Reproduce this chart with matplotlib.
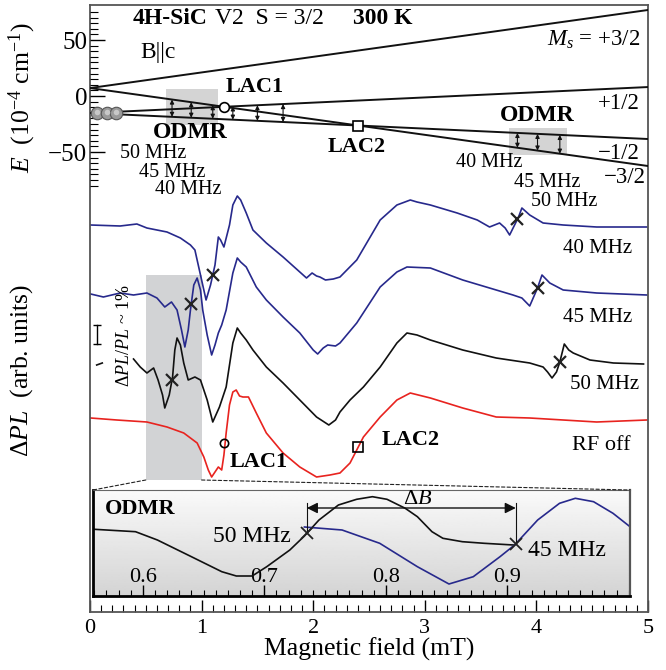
import matplotlib
matplotlib.use("Agg")
import matplotlib.pyplot as plt
import numpy as np
from matplotlib.patches import Rectangle, ConnectionPatch
from matplotlib.ticker import FixedLocator, MultipleLocator

plt.rcParams["font.family"] = ["Liberation Serif", "DejaVu Serif"]
plt.rcParams["mathtext.fontset"] = "custom"
plt.rcParams["mathtext.rm"] = "Liberation Serif"
plt.rcParams["mathtext.it"] = "Liberation Serif:italic"
plt.rcParams["mathtext.bf"] = "Liberation Serif:bold"

# ---- energy levels (10^-4 cm^-1) at B = 0 and 5 mT ----
LEVEL_B = [0.0, 5.0]
LEVEL_P32 = [7.1, 76.8]
LEVEL_P12 = [-15.2, 8.0]
LEVEL_M12 = [-15.2, -38.4]
LEVEL_M32 = [7.1, -62.5]
BALL_B = [0.063, 0.15, 0.23]

# ODMR resonance fields (mT)
ODMR_LOW = [0.735, 0.907, 1.10]     # 50, 45, 40 MHz
ODMR_MID = [1.28, 1.50, 1.73]
ODMR_HIGH = [3.83, 4.01, 4.21]      # 40, 45, 50 MHz

# ---- Delta PL traces ----
B_40 = [0.006, 0.27, 0.42, 0.51, 0.69, 0.81, 0.90, 0.94, 0.99, 1.04, 1.08, 1.12, 1.15, 1.17, 1.20,
        1.25, 1.28, 1.32, 1.35, 1.40, 1.46, 1.58, 1.73, 1.88, 1.94, 1.99, 2.03, 2.06, 2.11, 2.18,
        2.24, 2.39, 2.60, 2.75, 2.87, 2.93, 3.05, 3.29, 3.47, 3.58, 3.67, 3.72, 3.76, 3.84, 3.87,
        3.94, 4.06, 4.24, 4.54, 4.99]
PL_40 = [3.87, 3.86, 3.88, 3.84, 3.80, 3.74, 3.67, 3.62, 3.37, 3.12, 3.27, 3.47, 3.75, 3.72, 3.65,
         3.87, 4.07, 4.16, 4.12, 3.99, 3.82, 3.69, 3.55, 3.40, 3.34, 3.39, 3.36, 3.35, 3.32, 3.33,
         3.35, 3.52, 3.92, 4.07, 4.12, 4.10, 4.07, 3.99, 3.92, 3.85, 3.89, 3.84, 3.77, 3.95, 4.04,
         3.97, 3.89, 3.87, 3.85, 3.85]

B_45 = [0.006, 0.12, 0.27, 0.39, 0.51, 0.60, 0.67, 0.73, 0.78, 0.82, 0.85, 0.88, 0.90, 0.93, 0.96,
        0.99, 1.01, 1.05, 1.09, 1.12, 1.15, 1.18, 1.22, 1.28, 1.32, 1.35, 1.40, 1.49, 1.58, 1.73,
        1.88, 2.00, 2.04, 2.09, 2.13, 2.20, 2.24, 2.39, 2.60, 2.75, 2.84, 3.05, 3.34, 3.64, 3.79,
        3.87, 3.94, 4.01, 4.05, 4.12, 4.24, 4.54, 4.99]
PL_45 = [3.18, 3.15, 3.19, 3.17, 3.19, 3.14, 3.05, 3.10, 3.02, 2.82, 2.65, 2.82, 3.02, 3.27, 3.34,
         3.22, 3.02, 2.77, 2.57, 2.67, 2.79, 2.87, 3.02, 3.39, 3.54, 3.50, 3.45, 3.25, 3.12, 2.95,
         2.79, 2.62, 2.58, 2.64, 2.67, 2.66, 2.69, 2.89, 3.25, 3.40, 3.45, 3.44, 3.32, 3.22, 3.17,
         3.14, 3.06, 3.24, 3.37, 3.29, 3.22, 3.19, 3.17]

B_50 = [0.06, 0.11, 0.25, 0.39, 0.45, 0.51, 0.57, 0.61, 0.65, 0.67, 0.71, 0.74, 0.76, 0.78, 0.81,
        0.84, 0.88, 0.94, 0.99, 1.05, 1.10, 1.16, 1.22, 1.28, 1.32, 1.35, 1.40, 1.46, 1.58, 1.73,
        1.88, 2.03, 2.14, 2.20, 2.24, 2.33, 2.45, 2.60, 2.75, 2.84, 2.93, 3.05, 3.34, 3.64, 3.94,
        4.06, 4.10, 4.14, 4.18, 4.21, 4.25, 4.29, 4.33, 4.48, 4.69, 4.96]
PL_50 = [2.47, 2.49, np.nan, 2.53, 2.45, 2.39, 2.44, 2.32, 2.17, 2.04, 2.17, 2.35, 2.62, 2.74, 2.67,
         2.49, 2.32, 2.35, 2.32, 2.12, 1.90, 2.05, 2.25, 2.69, 2.84, 2.79, 2.72, 2.62, 2.45, 2.29,
         2.12, 1.95, 1.87, 1.92, 2.00, 2.12, 2.25, 2.45, 2.69, 2.79, 2.77, 2.72, 2.62, 2.54, 2.49,
         2.45, 2.40, 2.34, 2.40, 2.50, 2.68, 2.62, 2.59, 2.52, 2.49, 2.48]

B_OFF = [0.006, 0.24, 0.51, 0.69, 0.84, 0.96, 1.02, 1.06, 1.09, 1.12, 1.15, 1.18, 1.20, 1.22, 1.25,
         1.28, 1.31, 1.34, 1.37, 1.42, 1.49, 1.58, 1.73, 1.88, 2.03, 2.15, 2.24, 2.33, 2.45, 2.60,
         2.75, 2.87, 3.05, 3.34, 3.64, 3.94, 4.24, 4.54, 4.99]
PL_OFF = [1.94, 1.92, 1.90, 1.85, 1.79, 1.69, 1.55, 1.42, 1.35, 1.40, 1.45, 1.42, 1.57, 1.79, 2.07,
          2.20, 2.22, 2.16, 2.15, 2.15, 1.99, 1.79, 1.59, 1.45, 1.35, 1.37, 1.39, 1.49, 1.75, 1.95,
          2.12, 2.19, 2.14, 2.04, 1.95, 1.94, 1.92, 1.90, 1.92]

# ---- inset (zoom of 0.56 - 1.0 mT) ----
INS_B_50 = [0.560, 0.594, 0.612, 0.640, 0.665, 0.677, 0.690, 0.702, 0.721, 0.733, 0.745, 0.761,
            0.776, 0.789, 0.801, 0.816, 0.826, 0.838, 0.847, 0.863, 0.881, 0.905]
INS_PL_50 = [0.667, 0.643, 0.56, 0.393, 0.243, 0.20, 0.20, 0.293, 0.46, 0.60, 0.76, 0.91,
             0.967, 0.993, 0.967, 0.877, 0.793, 0.643, 0.577, 0.543, 0.527, 0.51]
INS_B_45 = [0.733, 0.764, 0.795, 0.826, 0.852, 0.872, 0.894, 0.906, 0.925, 0.943, 0.956, 0.971,
            0.987, 1.001]
INS_PL_45 = [0.69, 0.66, 0.527, 0.293, 0.12, 0.193, 0.393, 0.51, 0.76, 0.927, 0.977, 0.943,
             0.827, 0.693]

SCALE_BAR = [2.68, 2.87]   # Delta PL / PL ~ 1 %

NAVY = "#27298c"
RED = "#e8231f"


def level_at(level, b):
    return np.interp(b, LEVEL_B, level)


def crossing(l1, l2):
    s1 = (l1[1] - l1[0]) / (LEVEL_B[1] - LEVEL_B[0])
    s2 = (l2[1] - l2[0]) / (LEVEL_B[1] - LEVEL_B[0])
    b = (l2[0] - l1[0]) / (s1 - s2)
    return b, l1[0] + s1 * b


def main():
    fig = plt.figure(figsize=(6.66, 6.70), dpi=100)
    rect = [90 / 666, 58 / 670, 558 / 666, 607 / 670]
    ax = fig.add_axes(rect)
    ax_e = fig.add_axes(rect)
    ax_e.patch.set_visible(False)

    # ---------- main axes (Delta PL) ----------
    ax.set_xlim(0, 5)
    ax.set_ylim(0, 6.07)
    for spine in ax.spines.values():
        spine.set_color("#555555")
        spine.set_linewidth(1.3)
    ax.xaxis.set_major_locator(MultipleLocator(1))
    ax.xaxis.set_minor_locator(MultipleLocator(0.1))
    ax.tick_params(axis="x", which="major", direction="in", length=9, width=1, labelsize=16, pad=5)
    ax.tick_params(axis="x", which="minor", direction="in", length=5, width=0.8)
    ax.tick_params(axis="y", left=False, labelleft=False)
    ax.set_xlabel("Magnetic field (mT)", fontsize=18.5, labelpad=0)

    ax.add_patch(Rectangle((0.5, 1.32), 0.5, 2.05, facecolor="#d2d3d5", edgecolor="none", zorder=0))

    ax.plot(B_40, PL_40, color=NAVY, lw=1.2)
    ax.plot(B_45, PL_45, color=NAVY, lw=1.2)
    ax.plot(B_50, PL_50, color="#111111", lw=1.2)
    ax.plot(B_OFF, PL_OFF, color=RED, lw=1.2)

    for b in ODMR_LOW[2:] + ODMR_HIGH[:1]:
        ax.plot(b, np.interp(b, B_40, PL_40), "x", color="#222222", ms=9, mew=1.6, zorder=5)
    for b in ODMR_LOW[1:2] + ODMR_HIGH[1:2]:
        ax.plot(b, np.interp(b, B_45, PL_45), "x", color="#222222", ms=9, mew=1.6, zorder=5)
    for b in ODMR_LOW[:1] + ODMR_HIGH[2:]:
        ax.plot(b, np.interp(b, B_50, PL_50), "x", color="#222222", ms=9, mew=1.6, zorder=5)

    b_lac1, e_lac1 = crossing(LEVEL_M32, LEVEL_P12)
    b_lac2, e_lac2 = crossing(LEVEL_M32, LEVEL_M12)
    ax.plot(b_lac1, np.interp(b_lac1, B_OFF, PL_OFF) + 0.1, "o", mfc="none", mec="k", ms=6, mew=1.2)
    ax.plot(b_lac2, np.interp(b_lac2, B_OFF, PL_OFF), "s", mfc="none", mec="k", ms=7, mew=1.2)
    ax.text(1.51, 1.50, "LAC1", fontsize=16, fontweight="bold", ha="center", va="center")
    ax.text(2.87, 1.72, "LAC2", fontsize=16, fontweight="bold", ha="center", va="center")

    ax.text(4.55, 3.64, "40 MHz", fontsize=15, ha="center", va="center")
    ax.text(4.55, 2.95, "45 MHz", fontsize=15, ha="center", va="center")
    ax.text(4.61, 2.28, "50 MHz", fontsize=15, ha="center", va="center")
    ax.text(4.58, 1.66, "RF off", fontsize=16, ha="center", va="center")

    ax.plot([0.063, 0.063], SCALE_BAR, color="k", lw=1, marker="_", ms=6, mew=1)
    ax.text(0.31, 2.76, r"$\Delta PL/PL$ ~ 1%", fontsize=13, rotation=90, ha="center", va="center")

    fig.text(22 / 666, 1 - 370 / 670, r"$\Delta PL$  (arb. units)", fontsize=18.5, rotation=90,
             ha="center", va="center")
    fig.text(22 / 666, 1 - 98 / 670, r"$E$  (10$^{-4}$ cm$^{-1}$)", fontsize=18.5, rotation=90,
             ha="center", va="center")

    # ---------- energy-level diagram ----------
    ax_e.set_xlim(0, 5)
    ax_e.set_ylim(-460.7, 81.25)
    for spine in ax_e.spines.values():
        spine.set_visible(False)
    ax_e.yaxis.set_major_locator(FixedLocator([-50, 0, 50]))
    ax_e.yaxis.set_minor_locator(FixedLocator(np.arange(-80, 80, 5)))
    ax_e.set_yticklabels(["\u221250", "0", "50"])
    ax_e.tick_params(axis="y", which="major", direction="in", length=11, width=1, labelsize=18, pad=2)
    ax_e.tick_params(axis="y", which="minor", direction="in", length=6, width=0.8)
    ax_e.tick_params(axis="x", bottom=False, labelbottom=False)

    ax_e.add_patch(Rectangle((0.68, -25.9), 0.47, 32.2, facecolor="#d4d4d4", edgecolor="none", zorder=0))
    ax_e.add_patch(Rectangle((3.75, -52.7), 0.52, 24.1, facecolor="#d4d4d4", edgecolor="none", zorder=0))

    for level in (LEVEL_P32, LEVEL_P12, LEVEL_M12, LEVEL_M32):
        ax_e.plot(LEVEL_B, level, color="#111111", lw=1.4, zorder=2)

    ax_e.plot(BALL_B, [LEVEL_M12[0]] * 3, "o", mfc="#9a9a9a", mec="#555555", ms=9, mew=0.8, zorder=3)
    ax_e.plot(BALL_B, [LEVEL_M12[0] + 0.8] * 3, "o", mfc="#c8c8c8", mec="none", ms=4, zorder=4)

    arrow = dict(arrowstyle="<|-|>", lw=0.8, color="#111111", shrinkA=0, shrinkB=0, mutation_scale=6)
    for b in ODMR_LOW:
        ax_e.annotate("", xy=(b, level_at(LEVEL_M12, b)), xytext=(b, level_at(LEVEL_M32, b)),
                      arrowprops=arrow)
    for b in ODMR_MID:
        ax_e.annotate("", xy=(b, level_at(LEVEL_M12, b)), xytext=(b, level_at(LEVEL_P12, b)),
                      arrowprops=arrow)
    for b in ODMR_HIGH:
        ax_e.annotate("", xy=(b, level_at(LEVEL_M32, b)), xytext=(b, level_at(LEVEL_M12, b)),
                      arrowprops=arrow)

    ax_e.plot(b_lac1, e_lac1, "o", mfc="white", mec="k", ms=7, mew=1.2, zorder=5)
    ax_e.plot(b_lac2, e_lac2, "s", mfc="white", mec="k", ms=7, mew=1.2, zorder=5)

    ax_e.text(0.385, 69.6, "4H-SiC", fontsize=17, fontweight="bold", va="center")
    ax_e.text(1.12, 69.6, "V2  S = 3/2", fontsize=17, va="center")
    ax_e.text(2.36, 69.6, "300 K", fontsize=17, fontweight="bold", va="center")
    ax_e.text(0.45, 39, "B||c", fontsize=17, va="center")
    ax_e.text(4.93, 50, r"$M_s$ = +3/2", fontsize=16.5, ha="right", va="center")
    ax_e.text(4.93, -6.3, "+1/2", fontsize=16.5, ha="right", va="center")
    ax_e.text(4.93, -50.9, "\u22121/2", fontsize=16.5, ha="right", va="center")
    ax_e.text(4.98, -73, "\u22123/2", fontsize=16.5, ha="right", va="center")
    ax_e.text(1.48, 8, "LAC1", fontsize=16, fontweight="bold", ha="center", va="center")
    ax_e.text(0.90, -33, "ODMR", fontsize=17, fontweight="bold", ha="center", va="center")
    ax_e.text(2.39, -45.5, "LAC2", fontsize=16, fontweight="bold", ha="center", va="center")
    ax_e.text(4.01, -17, "ODMR", fontsize=17, fontweight="bold", ha="center", va="center")
    ax_e.text(0.57, -50.9, "50 MHz", fontsize=14.5, ha="center", va="center")
    ax_e.text(0.74, -67.9, "45 MHz", fontsize=14.5, ha="center", va="center")
    ax_e.text(0.88, -83.9, "40 MHz", fontsize=14.5, ha="center", va="center")
    ax_e.text(3.58, -59.8, "40 MHz", fontsize=14.5, ha="center", va="center")
    ax_e.text(4.10, -76.8, "45 MHz", fontsize=14.5, ha="center", va="center")
    ax_e.text(4.25, -94.6, "50 MHz", fontsize=14.5, ha="center", va="center")

    # ---------- inset ----------
    ax_in = fig.add_axes([93 / 666, 74 / 670, 537 / 666, 106 / 670])
    ax_in.set_xlim(0.559, 1.001)
    ax_in.set_ylim(0, 1.06)
    grad = np.linspace(0.98, 0.83, 100)[:, None]
    ax_in.imshow(grad, extent=[0, 1, 0, 1], transform=ax_in.transAxes, aspect="auto",
                 cmap="gray", vmin=0, vmax=1, origin="upper", zorder=0)
    ax_in.spines["left"].set_linewidth(2)
    ax_in.spines["bottom"].set_linewidth(2)
    ax_in.spines["top"].set_color("#666666")
    ax_in.spines["right"].set_color("#555555")
    ax_in.spines["right"].set_linewidth(1.6)
    ax_in.xaxis.set_major_locator(FixedLocator([0.6, 0.7, 0.8, 0.9]))
    ax_in.xaxis.set_minor_locator(MultipleLocator(0.01))
    ax_in.tick_params(axis="x", which="major", direction="in", length=8, width=1, labelsize=16, pad=-20)
    ax_in.tick_params(axis="x", which="minor", direction="in", length=4, width=0.8)
    ax_in.tick_params(axis="y", left=False, labelleft=False)

    ax_in.plot(INS_B_50, INS_PL_50, color="#111111", lw=1.2)
    ax_in.plot(INS_B_45, INS_PL_45, color=NAVY, lw=1.2)
    for b, curve_b, curve_v in ((ODMR_LOW[0], INS_B_50, INS_PL_50), (ODMR_LOW[1], INS_B_45, INS_PL_45)):
        v = np.interp(b, curve_b, curve_v)
        ax_in.plot(b, v, "x", color="#222222", ms=8, mew=1.3, zorder=5)
        ax_in.plot([b, b], [0.93, v], color="#111111", lw=0.8)
    ax_in.annotate("", xy=(ODMR_LOW[1], 0.88), xytext=(ODMR_LOW[0], 0.88),
                   arrowprops=dict(arrowstyle="<|-|>", lw=1, color="#111111", shrinkA=0, shrinkB=0,
                                   mutation_scale=16))
    ax_in.text(0.826, 0.97, r"$\Delta B$", fontsize=16, ha="center", va="center")
    ax_in.text(0.569, 0.87, "ODMR", fontsize=16, fontweight="bold", va="center")
    ax_in.text(0.722, 0.59, "50 MHz", fontsize=17, ha="right", va="center")
    ax_in.text(0.917, 0.46, "45 MHz", fontsize=17, ha="left", va="center")

    for xa, xb in ((0.5, 0.0), (1.0, 1.0)):
        con = ConnectionPatch(xyA=(xa, 1.32), coordsA=ax.transData, xyB=(xb, 1.0),
                              coordsB=ax_in.transAxes, ls=(0, (3, 2)), lw=0.8, color="#222222")
        fig.add_artist(con)

    fig.savefig("out.png", dpi=100)
    plt.close(fig)


if __name__ == "__main__":
    main()
